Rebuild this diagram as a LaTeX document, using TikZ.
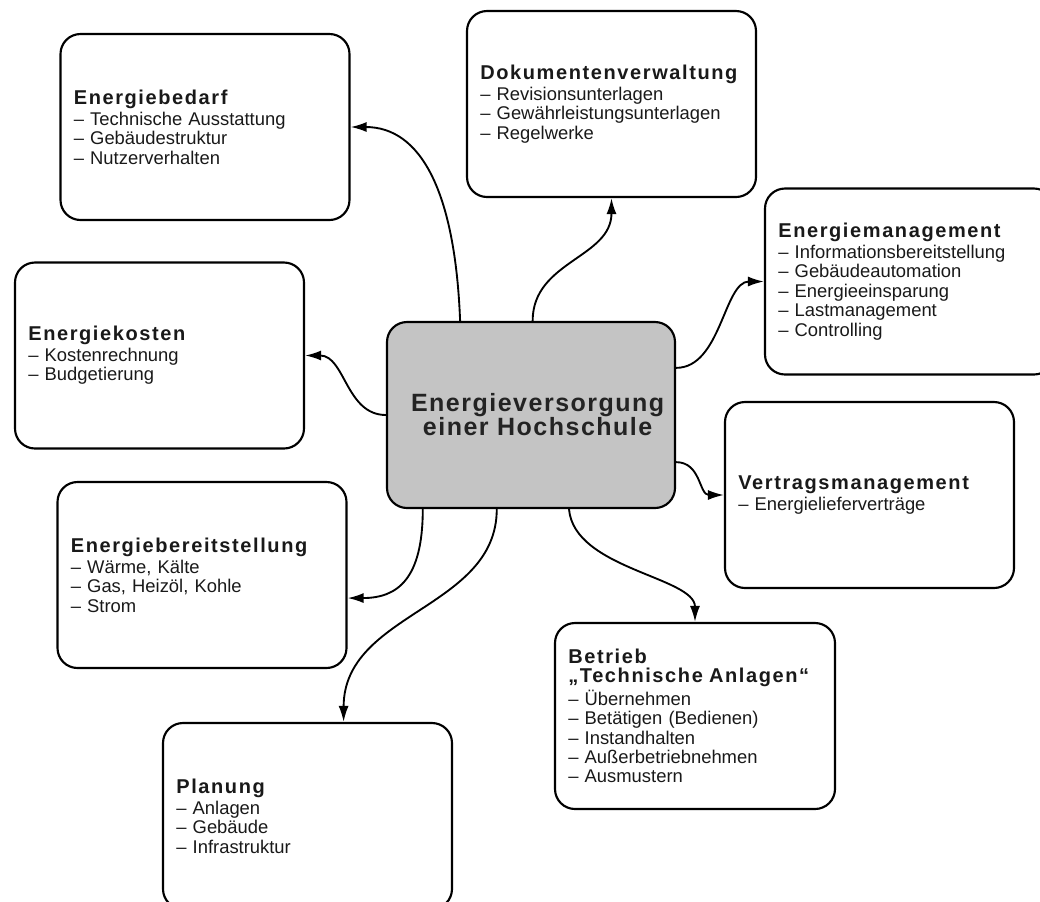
\documentclass[tikz,border=0pt]{standalone}
\usepackage{fontspec}
\setmainfont{Liberation Sans}
\newfontfamily\headfont{Liberation Sans}[LetterSpace=8]
\newfontfamily\hubfont{Liberation Sans}[LetterSpace=6]
\usetikzlibrary{arrows.meta}
\newcommand{\tophead}[1]{{\headfont\bfseries\fontsize{15}{15}\selectfont #1}}

\begin{document}
\begin{tikzpicture}[x=0.75pt,y=0.75pt,yscale=-1,xscale=1,
  topic/.style={draw, line width=1.6pt, rounded corners=15pt, minimum width=216.75pt, minimum height=139.5pt, inner xsep=10pt, text width=196.75pt, align=left, font=\fontsize{13.8}{14.6}\selectfont, text={rgb,255:red,25;green,25;blue,25}},
  hub/.style={draw, line width=1.6pt, rounded corners=15pt, fill={rgb,255:red,196;green,196;blue,196}, minimum width=216pt, minimum height=139.5pt, align=center, font=\hubfont\bfseries\fontsize{18.75}{18}\selectfont, text={rgb,255:red,35;green,35;blue,35}},
  conn/.style={line width=1.4pt, -{Latex[length=12pt,width=7.5pt]}}]
%set diagram size 1040 x 901
\useasboundingbox (0,0) rectangle (1040,901);

%Center [id:hub]
\node [hub] (hub) at (531,415) {\hspace{10pt}Energieversorgung\\\hspace{10pt}einer Hochschule};

%Topics
\node [topic] (bedarf) at (205,127) {\tophead{Energiebedarf}\\[1pt]– Technische Ausstattung\\– Gebäudestruktur\\– Nutzerverhalten};
\node [topic] (doku) at (611.5,104) {\tophead{Dokumentenverwaltung}\\[1pt]– Revisionsunterlagen\\– Gewährleistungsunterlagen\\– Regelwerke};
\node [topic] (emgmt) at (909.5,281.5) {\tophead{Energiemanagement}\\[1pt]– Informationsbereitstellung\\– Gebäudeautomation\\– Energieeinsparung\\– Lastmanagement\\– Controlling};
\node [topic] (kosten) at (159.5,355.5) {\tophead{Energiekosten}\\[1pt]– Kostenrechnung\\– Budgetierung};
\node [topic] (vertrag) at (869.5,495) {\tophead{Vertragsmanagement}\\[1pt]– Energielieferverträge};
\node [topic] (bereit) at (202,575) {\tophead{Energiebereitstellung}\\[1pt]– Wärme, Kälte\\– Gas, Heizöl, Kohle\\– Strom};
\node [topic, minimum width=210pt, text width=190pt] (betrieb) at (695,716) {\tophead{Betrieb}\\\tophead{„Technische Anlagen“}\\[1pt]– Übernehmen\\– Betätigen (Bedienen)\\– Instandhalten\\– Außerbetriebnehmen\\– Ausmustern};
\node [topic] (planung) at (307.5,816) {\tophead{Planung}\\[1pt]– Anlagen\\– Gebäude\\– Infrastruktur};

%Connectors
\draw [conn] (hub.127) .. controls +(-5,-130) and +(70,0) .. (bedarf.east);
\draw [conn] (hub.89) .. controls +(0,-60) and +(0,60) .. (doku.south);
\draw [conn] (hub.18) .. controls +(45,0) and +(-40,0) .. (emgmt.west);
\draw [conn] (hub.342) .. controls +(25,0) and +(-25,0) .. (vertrag.west);
\draw [conn] (hub.west) .. controls +(-40,0) and +(40,0) .. (kosten.east);
\draw [conn] (hub.221) .. controls +(0,70) and +(50,0) .. (bereit.351);
\draw [conn] (hub.250) .. controls +(0,100) and +(0,-110) .. (planung.69);
\draw [conn] (hub.292) .. controls +(5,60) and +(0,-45) .. (betrieb.north);

\end{tikzpicture}
\end{document}
